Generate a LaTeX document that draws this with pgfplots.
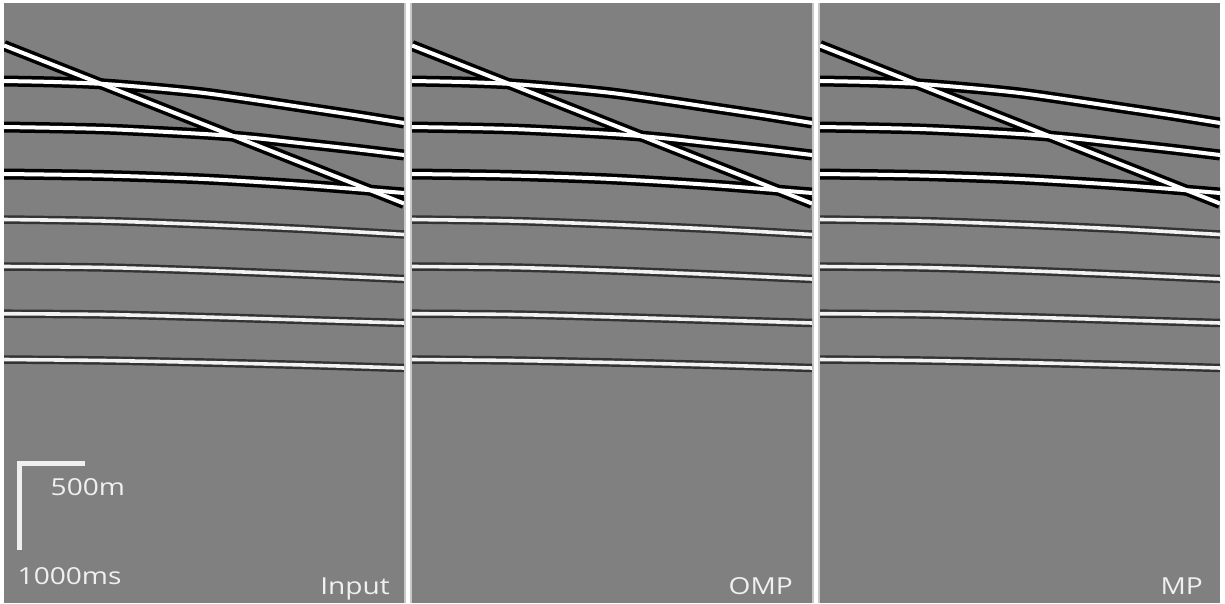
\documentclass[border=0pt]{standalone}
\usepackage{pgfplots}
\pgfplotsset{compat=1.18}
\usepackage{fontspec}
\setmainfont[FakeStretch=1.2]{Open Sans}
\definecolor{bggray}{RGB}{128,128,128}
\definecolor{sepgray}{RGB}{200,200,200}
\definecolor{txt}{RGB}{240,240,240}

\pgfplotsset{
  panel/.style={
    anchor=south west, scale only axis, width=400bp, height=600bp,
    xmin=0, xmax=400, ymin=0, ymax=600, y dir=reverse,
    axis line style={draw=none}, ticks=none,
    axis background/.style={fill=bggray}, clip=true,
  },
  edgeA/.style={draw=black, line width=11bp, smooth, no markers},
  edgeB/.style={draw=black!80, line width=8.5bp, smooth, no markers},
  coreA/.style={draw=white, line width=4bp, smooth, no markers},
  coreB/.style={draw=white!95!black, line width=3.6bp, smooth, no markers},
}

% events (x = trace position in px, y = time in px from top)
\newcommand{\events}[2]{%
  \addplot[#1] coordinates {(0,78)(50,79)(100,81)(150,85)(200,90)(250,97)(300,104.5)(350,112)(400,120)};
  \addplot[#1] coordinates {(0,124)(100,126)(200,131)(250,135)(300,140.5)(350,146)(400,152)};
  \addplot[#1] coordinates {(0,171)(100,172.5)(200,176)(300,182)(400,190)};
  \addplot[#1] coordinates {(0,42.5)(400,200.5)};
  \addplot[#2] coordinates {(0,216.5)(100,218)(200,221.5)(300,226)(400,231.5)};
  \addplot[#2] coordinates {(0,263.5)(100,264.5)(200,267.5)(300,271.5)(400,276)};
  \addplot[#2] coordinates {(0,310.7)(100,311.5)(200,314)(300,317)(400,320)};
  \addplot[#2] coordinates {(0,356.5)(100,357.5)(200,359.5)(300,362)(400,365)};
}
\newcommand{\allevents}{\events{edgeA}{edgeB}\events{coreA}{coreB}}

\begin{document}
\begin{tikzpicture}
\fill[white] (0,0) rectangle (1225bp,604bp);
\fill[sepgray] (404bp,1bp) rectangle (412bp,601bp);
\fill[white] (406bp,1bp) rectangle (410bp,601bp);
\fill[sepgray] (812bp,1bp) rectangle (820bp,601bp);
\fill[white] (814bp,1bp) rectangle (818bp,601bp);

\begin{axis}[panel, at={(4bp,1bp)}]
  \allevents
  \addplot[draw=txt, line width=5.5bp, line join=miter, no markers] coordinates {(81,460.5)(15.7,460.5)(15.7,547)};
  \node[anchor=base west, text=txt, font=\fontsize{23.5}{28}\selectfont, inner sep=0pt] at (axis cs:46.5,492.3) {500m};
  \node[anchor=base west, text=txt, font=\fontsize{23.5}{28}\selectfont, inner sep=0pt] at (axis cs:13.5,581.7) {1000ms};
  \node[anchor=base east, text=txt, font=\fontsize{23.5}{28}\selectfont, inner sep=0pt] at (axis cs:386,591.7) {Input};
\end{axis}

\begin{axis}[panel, at={(412bp,1bp)}]
  \allevents
  \node[anchor=base east, text=txt, font=\fontsize{23.5}{28}\selectfont, inner sep=0pt] at (axis cs:381,591.7) {OMP};
\end{axis}

\begin{axis}[panel, at={(820bp,1bp)}]
  \allevents
  \node[anchor=base east, text=txt, font=\fontsize{23.5}{28}\selectfont, inner sep=0pt] at (axis cs:383,591.7) {MP};
\end{axis}
\end{tikzpicture}
\end{document}
